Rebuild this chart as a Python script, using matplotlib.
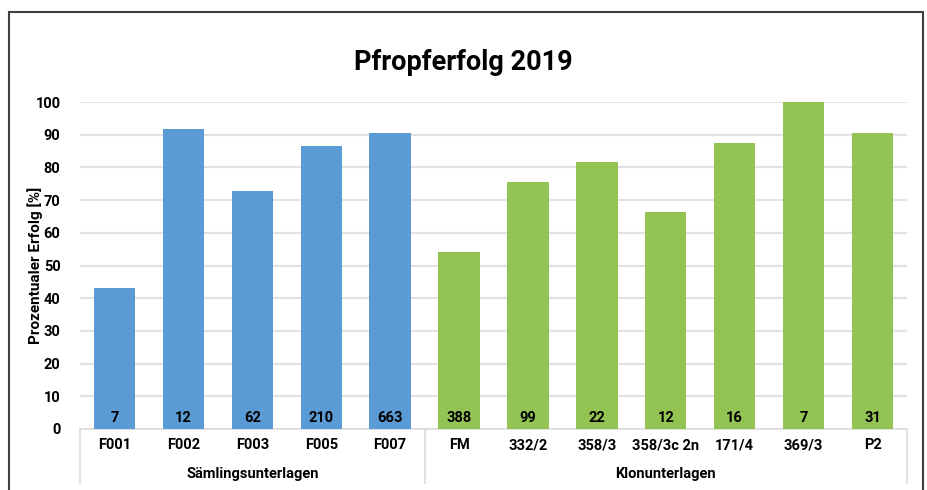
import matplotlib.pyplot as plt
from matplotlib.lines import Line2D
from matplotlib.patches import Rectangle
import numpy as np

plt.rcParams['font.family'] = ['Roboto', 'DejaVu Sans']

# Daten
samling = ["F001", "F002", "F003", "F005", "F007"]
samlingErfolg = [43.1, 91.7, 72.8, 86.5, 90.5]
samlingAnzahl = [7, 12, 62, 210, 663]

klon = ["FM", "332/2", "358/3", "358/3c 2n", "171/4", "369/3", "P2"]
klonErfolg = [54.1, 75.5, 81.6, 66.4, 87.5, 100, 90.5]
klonAnzahl = [388, 99, 22, 12, 16, 7, 31]

gruppen = ["Sämlingsunterlagen", "Klonunterlagen"]

blau = '#5B9BD5'
gruen = '#93C353'
gewicht = 'bold'

fig = plt.figure(figsize=(9.27, 4.90), dpi=100)
W, H = 927, 490
ax = fig.add_axes([80 / W, 1 - 429 / H, 827 / W, 327 / H])

labels = samling + klon
werte = samlingErfolg + klonErfolg
anzahl = samlingAnzahl + klonAnzahl
farben = [blau] * len(samling) + [gruen] * len(klon)
x = np.arange(len(labels))

ax.bar(x, werte, width=0.6, color=farben, zorder=3)
for i in range(len(x)):
	ax.text(x[i], 3.5, str(anzahl[i]), ha='center', va='center',
		fontsize=10.5, fontweight=gewicht, color='black', zorder=4)

ax.set_xlim(-0.5, len(labels) - 0.5)
ax.set_ylim(0, 100)
ax.set_yticks(range(0, 101, 10))
ax.yaxis.grid(True, color='#e2e2e2', linewidth=1.5, zorder=0)
ax.set_axisbelow(True)
for s in ['top', 'right', 'left']:
	ax.spines[s].set_visible(False)
ax.spines['bottom'].set_color('#dcdcdc')
ax.spines['bottom'].set_linewidth(1.2)
ax.tick_params(axis='y', length=0, pad=14, labelsize=10.5)
for t in ax.get_yticklabels():
	t.set_fontweight(gewicht)
ax.set_xticks([])
ax.set_ylabel("Prozentualer Erfolg [%]", fontsize=11, fontweight=gewicht)
ax.yaxis.set_label_coords(-37 / 827, 0.5)

# Kategorien und Gruppen unter der Achse
trans = ax.get_xaxis_transform()
for i in range(len(labels)):
	ax.text(x[i], -16 / 327, labels[i], transform=trans, ha='center', va='center',
		fontsize=10.5, fontweight=gewicht)
grenzen = [-0.5, len(samling) - 0.5, len(labels) - 0.5]
for b in grenzen:
	ax.add_line(Line2D([b, b], [0, -54 / 327], transform=trans, color='#dcdcdc',
		linewidth=1.2, clip_on=False))
mitte = [(grenzen[0] + grenzen[1]) / 2, (grenzen[1] + grenzen[2]) / 2]
for i in range(len(gruppen)):
	ax.text(mitte[i], -45 / 327, gruppen[i], transform=trans, ha='center', va='center',
		fontsize=10.5, fontweight=gewicht)

fig.text(0.5, 1 - 62 / H, "Pfropferfolg 2019", ha='center', va='center',
	fontsize=19.5, fontweight=gewicht)

# Rahmen
fig.patches.append(Rectangle((9 / W, -0.1), 914 / W, 1.1 - 12 / H, transform=fig.transFigure,
	fill=False, edgecolor='#404040', linewidth=1.5))

fig.savefig('out.png', dpi=100)
